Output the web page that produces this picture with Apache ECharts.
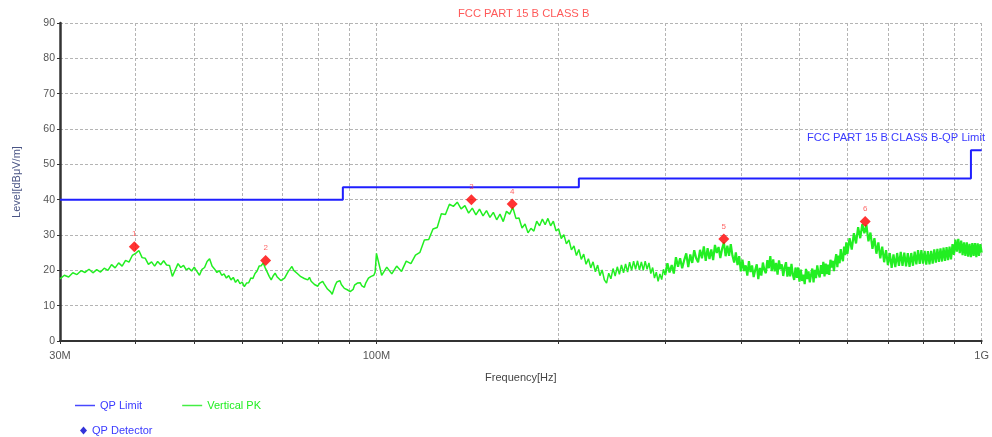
<!DOCTYPE html>
<html>
<head>
<meta charset="utf-8">
<script src="https://cdn.jsdelivr.net/npm/echarts@6/dist/echarts.min.js"></script>
<style>
  html, body { margin: 0; padding: 0; background: #fff; }
  #chart { width: 992px; height: 437px; }
</style>
</head>
<body>
<div id="chart"></div>
<script>
// x axis: grid lines and labelled ticks (MHz)
const gridFreqs = [30, 40, 50, 60, 70, 80, 90, 100, 200, 300, 400, 500, 600, 700, 800, 900, 1000]
const xLabelFreqs = [30, 100, 1000]
const xLabelTexts = ["30M", "100M", "1G"]

// QP limit (step line)
const limitFreq = [30, 88, 88, 216, 216, 960, 960, 1000]
const limitLevel = [40, 40, 43.5, 43.5, 46, 46, 54, 54]

// QP detector points
const qpNames = ["1", "2", "3", "4", "5", "6"]
const qpFreq = [39.8, 65.6, 143.5, 167.6, 374.9, 642]
const qpLevel = [26.7, 22.8, 40.0, 38.8, 28.9, 33.8]

// Vertical PK sweep, four segments (start MHz, step MHz, readings dBuV/m)
const pkStart = [30, 102, 302.5, 605]
const pkStep = [0.5, 2, 2.5, 5]
const pkLevelA = [
  17.6, 18.6, 18.1, 19.3, 18.8, 19.9, 19.4, 20.3, 19.3, 20.2,
  19.5, 20.6, 20.0, 21.6, 20.7, 22.1, 21.2, 22.8, 22.3, 24.2,
  24.8, 25.6, 23.6, 23.4, 21.7, 22.4, 21.2, 22.5, 21.6, 22.7,
  21.5, 21.4, 18.3, 20.1, 21.9, 20.8, 21.4, 20.1, 20.6, 19.8,
  20.9, 19.7, 18.6, 20.3, 20.8, 22.5, 23.3, 21.2, 20.4, 19.4,
  19.9, 18.6, 19.0, 17.8, 18.5, 17.3, 18.0, 16.6, 17.4, 16.2,
  16.7, 15.4, 16.4, 16.5, 17.8, 17.7, 19.1, 19.8, 21.2, 21.3,
  22.1, 20.7, 20.2, 18.3, 17.3, 18.4, 19.2, 18.2, 18.4, 17.1,
  16.8, 17.8, 18.3, 19.7, 20.4, 21.1, 20.0, 20.1, 19.1, 19.3,
  18.2, 18.6, 17.7, 18.2, 17.3, 18.0, 16.9, 17.1, 16.0, 16.4,
  15.5, 16.3, 16.0, 16.9, 16.1, 15.8, 14.7, 15.2, 13.9, 13.2,
  14.6, 15.8, 16.7, 16.8, 17.1, 16.0, 15.8, 14.9, 15.3, 14.5,
  14.8, 14.0, 14.3, 14.6, 15.8, 15.7, 16.4, 16.0, 16.5, 15.7,
  15.9, 15.2, 16.4, 16.8, 17.8, 17.5, 18.3, 17.9, 18.6, 19.5,
  24.8
]
const pkLevelB = [
  18.6, 20.9, 19.0, 21.2, 19.7, 22.6, 21.9, 24.3, 25.1, 28.6,
  28.7, 31.7, 32.1, 36.0, 35.8, 38.7, 38.1, 39.3, 37.4, 38.3,
  36.2, 37.6, 35.7, 37.3, 35.4, 36.9, 35.0, 36.4, 34.3, 35.9,
  33.8, 36.7, 35.9, 37.8, 34.7, 34.8, 32.0, 33.1, 30.6, 31.9,
  31.1, 33.9, 32.6, 34.5, 32.9, 34.7, 32.6, 33.9, 31.2, 31.7,
  29.0, 30.1, 27.5, 28.6, 25.8, 26.9, 24.2, 25.9, 23.1, 24.6,
  21.7, 23.3, 20.7, 22.4, 19.6, 21.5, 18.5, 20.1, 17.3, 16.4,
  19.2, 17.6, 20.5, 18.4, 21.0, 18.9, 21.5, 19.3, 21.8, 19.5,
  22.3, 20.0, 22.6, 20.3, 22.7, 20.1, 22.4, 20.0, 22.6, 20.3,
  22.1, 19.1, 20.8, 17.8, 19.5, 16.9, 19.0, 17.4, 20.3, 18.7
]
const pkLevelC = [
  22.0, 19.4, 21.5, 19.1, 23.7, 21.0, 23.4, 20.6, 22.9, 24.8,
  20.9, 24.5, 22.1, 25.7, 23.4, 22.3, 25.8, 23.4, 26.8, 22.7,
  26.3, 23.2, 25.9, 22.9, 27.2, 24.9, 26.6, 23.5, 26.1, 27.9,
  24.0, 27.0, 24.1, 27.4, 24.1, 22.2, 25.1, 21.5, 24.0, 19.7,
  23.0, 19.8, 21.4, 18.5, 22.6, 19.5, 21.4, 18.1, 20.1, 21.7,
  17.5, 20.7, 18.5, 22.2, 20.1, 19.2, 22.9, 20.6, 24.0, 19.8,
  23.1, 19.7, 22.1, 18.8, 22.8, 20.3, 21.7, 18.4, 20.8, 22.3,
  18.2, 21.0, 18.3, 21.8, 18.8, 17.3, 20.8, 17.9, 20.8, 16.8,
  20.2, 17.0, 18.8, 16.1, 20.4, 17.5, 19.7, 16.6, 18.7, 20.5,
  16.6, 20.1, 17.8, 21.4, 19.1, 18.0, 21.5, 19.0, 22.4, 18.3,
  21.9, 18.9, 21.6, 18.7, 23.0, 20.8, 22.7, 19.8, 22.6, 24.6,
  20.9, 24.2, 22.0, 26.0, 23.6, 22.6, 26.7, 24.3, 27.9, 24.7
]
const pkLevelD = [
  29.1, 25.9, 30.5, 27.6, 32.2, 29.1, 33.1, 30.5, 32.8, 28.2,
  30.7, 26.1, 29.1, 24.7, 27.9, 23.4, 26.7, 22.3, 25.7, 21.5,
  24.9, 20.7, 24.5, 20.9, 24.9, 21.3, 25.2, 21.3, 25.0, 21.1,
  24.9, 21.0, 24.9, 21.3, 25.3, 21.7, 25.7, 21.8, 25.7, 21.9,
  25.5, 21.6, 25.4, 21.7, 25.5, 21.9, 25.9, 22.2, 26.1, 22.4,
  26.2, 22.5, 26.4, 22.7, 26.6, 22.9, 26.7, 23.1, 27.4, 24.4,
  28.7, 25.3, 28.9, 24.9, 28.4, 24.3, 27.9, 24.1, 27.9, 23.9,
  27.5, 23.7, 27.7, 24.1, 27.7, 23.7, 27.6, 24.1, 27.4, 25.0
]

const font = "Liberation Sans, Arial, sans-serif"
const blue = "#1f1fff"
const textBlue = "#3a3aff"
const green = "#22ee22"
const red = "#ff0000"

const pkData = []
;[pkLevelA, pkLevelB, pkLevelC, pkLevelD].forEach((levels, s) => {
  levels.forEach((v, i) => {
    pkData.push([+(pkStart[s] + i * pkStep[s]).toFixed(1), v])
  })
})
// the dense part of the sweep (>= 300 MHz) is drawn a bit heavier
const splitAt = pkLevelA.length + pkLevelB.length - 1
const pkLow = pkData.slice(0, splitAt + 1)
const pkHigh = pkData.slice(splitAt)

const limitData = limitFreq.map((f, i) => [f, limitLevel[i]])
const qpData = qpFreq.map((f, i) => ({ name: qpNames[i], value: [f, qpLevel[i]] }))

const gridLine = { show: true, lineStyle: { color: "#b4b4b4", type: [3, 2], width: 1 } }

const chart = echarts.init(document.getElementById("chart"))
chart.setOption({
  animation: false,
  textStyle: { fontFamily: font },
  title: {
    text: "FCC PART 15 B CLASS B",
    left: 458,
    top: 8,
    padding: 0,
    textStyle: { color: "#ff5a5a", fontSize: 11.2, fontWeight: "normal", fontFamily: font }
  },
  grid: { left: 60, right: 6, top: 23, bottom: 96 },
  legend: [
    {
      left: 75,
      top: 400,
      padding: 0,
      icon: "rect",
      itemWidth: 20,
      itemHeight: 1.5,
      itemGap: 40,
      selectedMode: false,
      textStyle: { fontSize: 11, fontFamily: font },
      data: [
        { name: "QP Limit", itemStyle: { color: "#4848ff" }, textStyle: { color: textBlue } },
        { name: "Vertical PK", itemStyle: { color: "#44ee44" }, textStyle: { color: green } }
      ]
    },
    {
      left: 80,
      top: 425,
      padding: 0,
      itemWidth: 7,
      itemHeight: 8,
      selectedMode: false,
      textStyle: { fontSize: 11, fontFamily: font },
      data: [
        { name: "QP Detector", icon: "diamond", itemStyle: { color: "#0000d0" }, textStyle: { color: textBlue } }
      ]
    }
  ],
  xAxis: {
    type: "log",
    logBase: 10,
    min: 30,
    max: 1000,
    name: "Frequency[Hz]",
    nameLocation: "middle",
    nameGap: 31,
    nameTextStyle: { color: "#444", fontSize: 11, fontFamily: font },
    axisLine: { lineStyle: { color: "#333", width: 2 } },
    axisTick: { customValues: gridFreqs, length: 3, lineStyle: { color: "#333" } },
    axisLabel: {
      customValues: xLabelFreqs,
      margin: 9,
      color: "#555",
      fontSize: 11,
      formatter: (v) => xLabelTexts[xLabelFreqs.indexOf(Math.round(v))]
    },
    splitLine: gridLine
  },
  yAxis: {
    type: "value",
    min: 0,
    max: 90,
    interval: 10,
    name: "Level[dBμV/m]",
    nameLocation: "middle",
    nameGap: 38,
    nameTextStyle: { color: "#4a5585", fontSize: 11, fontFamily: font },
    axisLine: { show: true, lineStyle: { color: "#333", width: 2.5 } },
    axisTick: { show: true, length: 3, lineStyle: { color: "#333" } },
    axisLabel: { color: "#555", fontSize: 10.5, margin: 5 },
    splitLine: gridLine
  },
  graphic: [
    {
      type: "text",
      right: 7,
      top: 132,
      style: { text: "FCC PART 15 B CLASS B-QP Limit", fill: textBlue, fontSize: 11.2, fontFamily: font }
    }
  ],
  series: [
    {
      name: "QP Limit",
      type: "line",
      data: limitData,
      symbol: "none",
      color: blue,
      lineStyle: { color: blue, width: 2 },
      z: 3
    },
    {
      name: "Vertical PK",
      type: "line",
      data: pkLow,
      symbol: "none",
      color: green,
      lineStyle: { color: green, width: 1.5 },
      z: 2
    },
    {
      name: "Vertical PK",
      type: "line",
      data: pkHigh,
      symbol: "none",
      color: green,
      lineStyle: { color: green, width: 2.2 },
      z: 2
    },
    {
      name: "QP Detector",
      type: "scatter",
      data: qpData,
      symbol: "diamond",
      symbolSize: 11,
      itemStyle: { color: red },
      label: {
        show: true,
        position: "top",
        distance: 3,
        formatter: (p) => p.name,
        color: "#ff4040",
        fontSize: 8,
        fontFamily: font
      },
      z: 5
    }
  ]
})
</script>
</body>
</html>
